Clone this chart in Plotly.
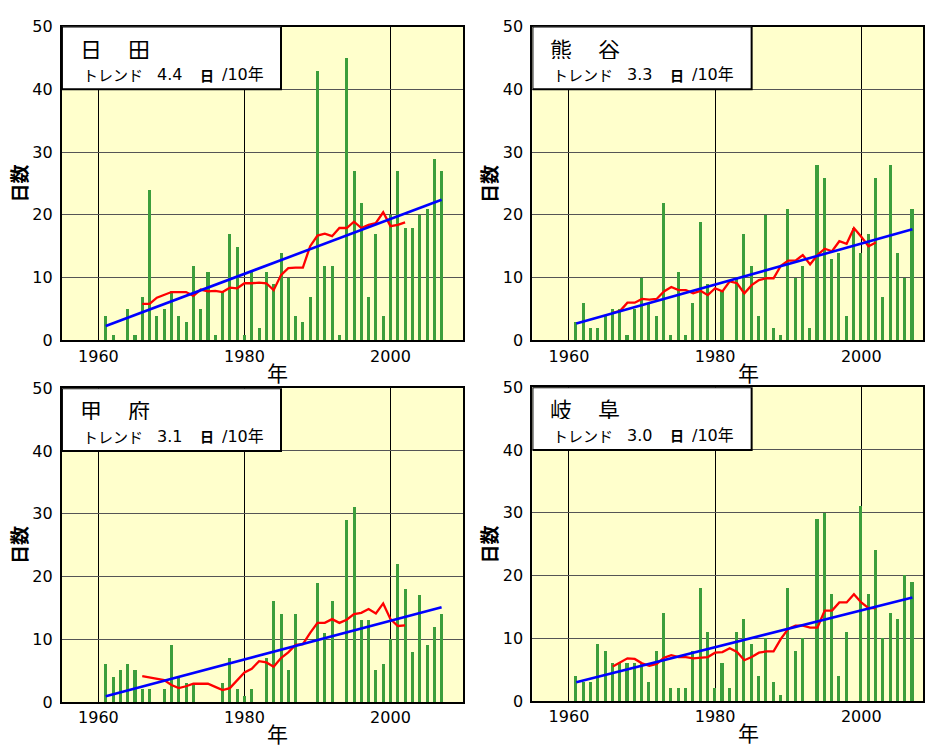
import plotly.graph_objects as go

W, H = 925, 749

years = list(range(1961, 2008))
ma_years = list(range(1966, 2003))
trend_years = [1961, 2007]

# 日田
hita_days = [4, 1, 0, 5, 1, 7, 24, 4, 5, 8, 4, 3, 12, 5, 11, 1, 8, 17, 15, 1,
             11, 2, 11, 9, 14, 10, 4, 3, 7, 43, 12, 12, 1, 45, 27, 22, 7, 17, 4, 20,
             27, 18, 18, 20, 21, 29, 27]
hita_ma = [5.8, 5.8, 6.8, 7.2, 7.7, 7.7, 7.7, 7.1, 8.1, 7.8, 7.9, 7.7, 8.4, 8.3, 9.1, 9.1,
           9.2, 9.1, 8.0, 10.4, 11.5, 11.6, 11.6, 15.0, 16.7, 17.0, 16.6, 17.9, 17.9, 18.9,
           17.9, 18.4, 18.7, 20.4, 18.2, 18.4, 18.8]
hita_trend = [2.3, 22.4]

# 熊谷
kuma_days = [3, 6, 2, 2, 4, 5, 5, 1, 5, 10, 6, 4, 22, 1, 11, 1, 6, 19, 9, 0,
             8, 0, 10, 17, 12, 4, 20, 2, 1, 21, 10, 12, 2, 28, 26, 13, 14, 4, 18, 14,
             17, 26, 7, 28, 14, 10, 21]
kuma_ma = [4.4, 4.7, 6.0, 6.0, 6.6, 6.5, 6.6, 7.8, 8.5, 8.0, 8.0, 7.5, 7.9, 7.2, 8.3, 7.8,
           9.4, 9.1, 7.5, 8.8, 9.6, 9.9, 9.9, 11.9, 12.7, 12.7, 13.6, 12.1, 13.6, 14.6,
           14.2, 15.8, 15.4, 17.9, 16.5, 15.0, 15.6]
kuma_trend = [2.7, 17.7]

# 甲府
kofu_days = [6, 4, 5, 6, 5, 2, 2, 0, 2, 9, 4, 3, 3, 0, 0, 0, 3, 7, 2, 1,
             2, 0, 7, 16, 14, 5, 14, 0, 0, 19, 11, 16, 0, 29, 31, 13, 13, 5, 6, 10,
             22, 18, 8, 17, 9, 12, 14]
kofu_ma = [4.1, 3.9, 3.8, 3.5, 2.7, 2.2, 2.5, 2.9, 2.9, 2.9, 2.4, 1.9, 2.2, 3.5, 4.7, 5.3,
           6.5, 6.3, 5.6, 7.0, 7.9, 9.1, 9.2, 11.0, 12.6, 12.6, 13.2, 12.6, 13.1, 14.0,
           14.2, 14.8, 14.1, 15.7, 13.2, 12.1, 12.2]
kofu_trend = [0.9, 15.1]

# 岐阜
gifu_days = [4, 3, 3, 9, 8, 6, 6, 6, 6, 6, 3, 8, 14, 2, 2, 2, 8, 18, 11, 2,
             6, 2, 11, 13, 9, 4, 10, 3, 1, 18, 8, 10, 0, 29, 30, 17, 4, 11, 0, 31,
             17, 24, 10, 14, 13, 20, 19]
gifu_ma = [5.5, 6.1, 6.8, 6.7, 6.0, 5.6, 5.9, 6.9, 7.3, 7.0, 7.0, 6.8, 6.9, 7.0, 7.7, 7.8,
           8.4, 7.8, 6.5, 7.0, 7.7, 7.9, 7.9, 9.9, 11.5, 12.0, 12.0, 11.7, 11.7, 14.4,
           14.4, 15.7, 15.7, 17.0, 15.7, 14.8, 14.8]
gifu_trend = [3.0, 16.5]

stations = [
    ("日", "田", "4.4", hita_days, hita_ma, hita_trend),
    ("熊", "谷", "3.3", kuma_days, kuma_ma, kuma_trend),
    ("甲", "府", "3.1", kofu_days, kofu_ma, kofu_trend),
    ("岐", "阜", "3.0", gifu_days, gifu_ma, gifu_trend),
]

# panel placement in pixels: (left, right, top, bottom)
panels = [(62, 464, 18, 340), (533, 924, 18, 340),
          (62, 464, 389, 711), (533, 924, 388, 710)]
x_ranges = [[1955, 2010], [1955, 2008.45], [1955, 2010], [1955, 2008.45]]

BAR = "rgb(60,158,60)"
BG = "#ffffcc"
NUM_FONT = "DejaVu Sans, Noto Sans CJK JP"
JP_FONT = "Noto Sans CJK JP"


def px(x):
    return x / W


def py(y):
    return 1 - y / H


def label(x, y, text, size, family=JP_FONT, xanchor="center", angle=0, height=None):
    ann = dict(x=px(x), y=py(y), xref="paper", yref="paper", text=text, showarrow=False,
               textangle=angle, font=dict(family=family, size=size, color="black"),
               xanchor=xanchor, yanchor="middle", borderpad=0)
    if height is not None:
        ann["height"] = height
    return ann


fig = go.Figure()
annotations = []
shapes = []

for i, (c1, c2, trend_txt, days, ma, trend) in enumerate(stations):
    n = "" if i == 0 else str(i + 1)
    xa, ya = "x" + n, "y" + n
    fig.add_trace(go.Bar(x=years, y=days, width=0.42, marker=dict(color=BAR, line_width=0),
                         xaxis=xa, yaxis=ya, showlegend=False))
    fig.add_trace(go.Scatter(x=ma_years, y=ma, mode="lines",
                             line=dict(color="#ff0000", width=2.3),
                             xaxis=xa, yaxis=ya, showlegend=False))
    fig.add_trace(go.Scatter(x=trend_years, y=trend, mode="lines",
                             line=dict(color="#0000ff", width=2.6),
                             xaxis=xa, yaxis=ya, showlegend=False))

    l, r, t, b = panels[i]
    axis_common = dict(showline=True, linecolor="black", linewidth=2, mirror=True,
                       ticks="", tickfont=dict(family=NUM_FONT, size=16, color="black"),
                       zeroline=False, showgrid=True)
    fig.update_layout(**{
        "xaxis" + n: dict(domain=[px(l), px(r)], range=x_ranges[i], anchor=ya,
                          tickvals=[1960, 1980, 2000], gridcolor="#000000", gridwidth=1,
                          **axis_common),
        "yaxis" + n: dict(domain=[py(b), py(t)], range=[0, 50], anchor=xa,
                          tickvals=[0, 10, 20, 30, 40, 50], gridcolor="#555555", gridwidth=1,
                          ticklabelstandoff=4, **axis_common),
    })

    # white caption box in the upper-left corner of each panel
    shapes.append(dict(type="rect", xref=xa, yref=ya, x0=1955, x1=1985, y0=40, y1=50,
                       fillcolor="white", line=dict(color="black", width=2), layer="above"))

    dx = l - 62
    dy = t - 18
    annotations += [
        label(91 + dx, 39.8 + dy, c1, 22, height=22),
        label(139 + dx, 39.8 + dy, c2, 22, height=22),
        label(82 + dx, 67 + dy, "トレンド", 15, xanchor="left", height=16),
        label(156 + dx, 67 + dy, trend_txt, 16, family=NUM_FONT, xanchor="left", height=16),
        label(207 + dx, 67.5 + dy, "<b>日</b>", 14, height=16),
        label(221 + dx, 67 + dy, "/10年", 16, family=NUM_FONT, xanchor="left", height=16),
        # axis titles
        label(l - 44, (t + b) / 2, "<b>日数</b>", 19, angle=-90),
        label(l + 216, b + 32, "年", 21),
    ]

fig.update_layout(
    width=W, height=H,
    margin=dict(l=0, r=0, t=0, b=0),
    paper_bgcolor="white",
    plot_bgcolor=BG,
    bargap=0,
    annotations=annotations,
    shapes=shapes,
)

fig.write_html("out.html")
